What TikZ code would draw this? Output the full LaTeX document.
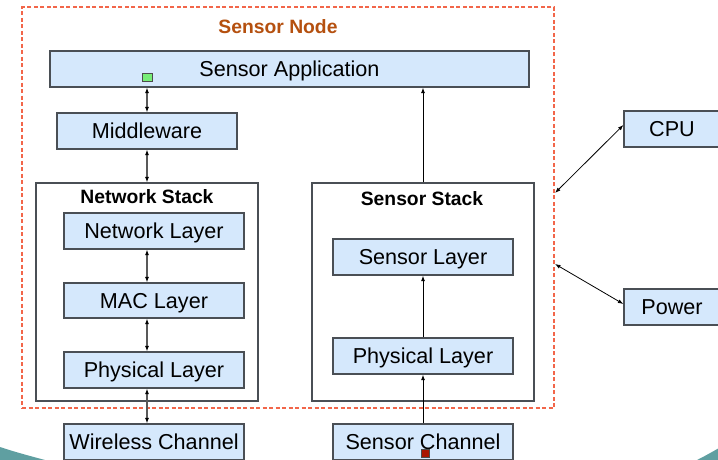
\documentclass[tikz,border=0pt]{standalone}
\usepackage{fontspec}
\setmainfont{Liberation Sans}
\usetikzlibrary{arrows.meta}
\definecolor{boxfill}{HTML}{D5E8FC}
\definecolor{boxline}{HTML}{4A4F55}
\definecolor{dashred}{HTML}{F2664A}
\definecolor{titlecol}{HTML}{B5500F}
\definecolor{teal}{HTML}{5F9FA1}
\definecolor{portgreen}{HTML}{77EE77}
\definecolor{portred}{HTML}{AA1500}
\tikzset{
  layerbox/.style={draw=boxline, fill=boxfill, line width=1.2pt, inner sep=0pt,
    minimum height=36pt, text height=15.6pt, text depth=0pt,
    font=\fontsize{21.6}{24}\selectfont},
  stackbox/.style={draw=boxline, fill=white, line width=1.2pt, inner sep=0pt},
  stacktitle/.style={inner sep=0pt, text height=13.8pt, text depth=0pt,
    font=\bfseries\fontsize{19.3}{22}\selectfont},
  grayarrow/.style={draw=black!65, line width=1.3pt, {Latex[length=5.5pt,width=4pt,black]}-{Latex[length=5.5pt,width=4pt,black]}},
  blackarrow/.style={draw=black, line width=1pt, -{Latex[length=5.5pt,width=4pt]}},
  thinboth/.style={draw=black, line width=0.8pt, {Latex[length=5.5pt,width=4pt]}-{Latex[length=5.5pt,width=4pt]}},
  port/.style={draw=black!70, line width=0.8pt, inner sep=0pt}
}
\begin{document}
\begin{tikzpicture}[x=1pt,y=-1pt]
\useasboundingbox (0,0) rectangle (718,459);
\clip (0,0) rectangle (718,459);
\fill[white] (0,0) rectangle (718,459);
% background swooshes
\fill[teal] (0,447) .. controls (15,452) and (30,456) .. (45,460) -- (0,460) -- cycle;
\fill[teal] (697,460) .. controls (705,456) and (712,452) .. (719,448) -- (719,460) -- cycle;
% sensor node dashed frame
\node[draw=dashred, line width=1.1pt, dash pattern=on 4pt off 2.5pt, inner sep=0pt,
  minimum width=532pt, minimum height=401pt] (sensornode) at (288,207.5) {};
\node[stacktitle, text=titlecol] (sntitle) at (278,27) {Sensor Node};
% stacks
\node[stackbox, minimum width=222pt, minimum height=218pt] (netstack) at (147,292) {};
\node[stacktitle] (nettitle) at (147,197) {Network Stack};
\node[stackbox, minimum width=222pt, minimum height=218pt] (sensstack) at (423,292) {};
\node[stacktitle] (senstitle) at (422,199) {Sensor Stack};
% layer boxes
\node[layerbox, minimum width=479pt] (app) at (289.5,69) {Sensor Application};
\node[layerbox, minimum width=180pt] (mid) at (147,131) {Middleware};
\node[layerbox, minimum width=180pt] (net) at (154,231) {Network Layer};
\node[layerbox, minimum width=180pt, minimum height=35pt] (mac) at (154,300.5) {MAC Layer};
\node[layerbox, minimum width=180pt] (physl) at (154,370) {Physical Layer};
\node[layerbox, minimum width=180pt] (wireless) at (154,442) {Wireless Channel};
\node[layerbox, minimum width=180pt] (sensl) at (423,257) {Sensor Layer};
\node[layerbox, minimum width=180pt] (physr) at (423,356) {Physical Layer};
\node[layerbox, minimum width=180pt] (senschan) at (423,442) {Sensor Channel};
\node[layerbox, minimum width=96pt] (cpu) at (672,129) {CPU};
\node[layerbox, minimum width=96pt] (power) at (672,307) {Power};
% ports
\node[port, fill=portgreen, minimum width=10pt, minimum height=8pt] (appport) at (147,77) {};
\node[port, fill=portred, minimum width=8pt, minimum height=8pt] (chanport) at (425,453) {};
% left column arrows
\draw[grayarrow] (app.south -| mid.north) -- (mid.north);
\draw[grayarrow] (mid.south) -- (netstack.north);
\draw[grayarrow] (net.south -| netstack.north) -- (mac.north -| netstack.north);
\draw[grayarrow] (mac.south -| netstack.north) -- (physl.north -| netstack.north);
\draw[grayarrow] (physl.south -| netstack.north) -- (wireless.north -| netstack.north);
% right column arrows
\draw[blackarrow] (senschan.north) -- (physr.south);
\draw[blackarrow] (physr.north) -- (sensl.south);
\draw[blackarrow] (sensstack.north) -- (app.south -| sensstack.north);
% cpu and power
\coordinate (cpuend) at (555,193);
\coordinate (powerend) at (555,264);
\draw[thinboth] (cpuend) -- ([yshift=4pt]cpu.west);
\draw[thinboth] (powerend) -- ([yshift=3pt]power.west);
\end{tikzpicture}
\end{document}
